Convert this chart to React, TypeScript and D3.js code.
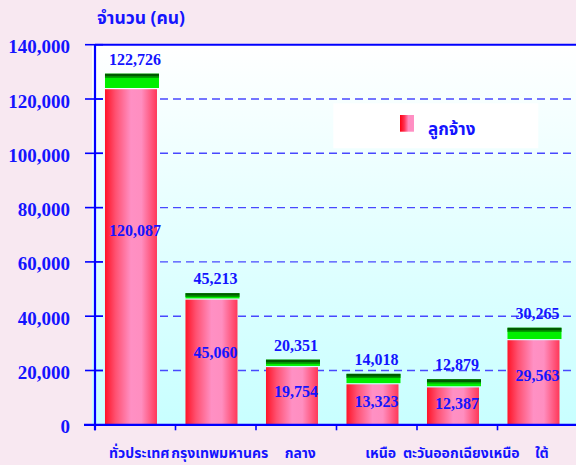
import React from "react";
import * as d3 from "d3";

const categories = ["ทั่วประเทศ", "กรุงเทพมหานคร", "กลาง", "เหนือ", "ตะวันออกเฉียงเหนือ", "ใต้"];
const totalValues = [122726, 45213, 20351, 14018, 12879, 30265];
const employeeValues = [120087, 45060, 19754, 13323, 12387, 29563];
const capValues = [5270, 1950, 2320, 3430, 2580, 4160];
const yTicks = [0, 20000, 40000, 60000, 80000, 100000, 120000, 140000];
const legendLabel = "ลูกจ้าง";
const yTitle = "จำนวน (คน)";

const W = 576;
const H = 465;
const left = 95;
const top = 44.7;
const bottom = 424.8;
const right = 578;

const thaiFont = "'Noto Sans Thai', 'Noto Sans Thai UI', Tahoma, 'Noto Sans', 'DejaVu Sans', sans-serif";
const numFont = "'Liberation Serif', 'Times New Roman', serif";
const blue = "#1414ff";

export default function App() {
  const x = d3.scaleBand<string>().domain(categories).range([left, right]).paddingInner(0).paddingOuter(0);
  const y = d3.scaleLinear().domain([0, 140000]).range([bottom, top]);
  const bw = x.bandwidth();
  const barOff = bw * 0.124;
  const barW = bw * 0.646;
  const capW = barW + 2;
  const lift = 2.4;
  const gap = 1.2;

  return (
    <svg width={W} height={H} style={{ display: "block", position: "absolute", left: 0, top: 0 }}>
      <defs>
        <linearGradient id="plotBg" x1="0" y1="0" x2="0" y2="1">
          <stop offset="0%" stopColor="#ffffff" />
          <stop offset="100%" stopColor="#c8ffff" />
        </linearGradient>
        <linearGradient id="barGrad" x1="0" y1="0" x2="1" y2="0">
          <stop offset="0%" stopColor="#ff1428" />
          <stop offset="20%" stopColor="#ff5070" />
          <stop offset="50%" stopColor="#ff90c4" />
          <stop offset="70%" stopColor="#ff8ec0" />
          <stop offset="100%" stopColor="#ff3858" />
        </linearGradient>
        <linearGradient id="legGrad" x1="0" y1="0" x2="1" y2="0">
          <stop offset="0%" stopColor="#ff0010" />
          <stop offset="30%" stopColor="#ff3050" />
          <stop offset="60%" stopColor="#ff8cc0" />
          <stop offset="100%" stopColor="#ff90c4" />
        </linearGradient>
      </defs>
      <rect x={0} y={0} width={W} height={H} fill="#f8e8f1" />
      <rect x={left - 3} y={top} width={W - left + 3} height={bottom - top} fill="url(#plotBg)" />

      {/* gridlines */}
      {yTicks.filter((t) => t > 0 && t < 140000).map((t) => (
        <line key={"g" + t} x1={left} x2={W} y1={y(t)} y2={y(t)} stroke="#4848ff" strokeWidth={1.4} strokeDasharray="8,5" />
      ))}

      {/* legend */}
      <rect x={333.3} y={103.3} width={205} height={45} fill="#ffffff" />
      <rect x={400} y={115} width={14} height={16.7} fill="url(#legGrad)" />
      <text x={428} y={135} fontFamily={thaiFont} fontWeight="bold" fontSize={17} fill={blue}>{legendLabel}</text>

      {/* bars */}
      {categories.map((c, i) => {
        const bx = (x(c) as number) + barOff;
        const redTop = y(totalValues[i]) - lift;
        const capH = y(0) - y(capValues[i]);
        const capBottom = redTop - gap;
        const capTop = capBottom - capH;
        const dark = Math.min(3, capH * 0.5);
        return (
          <g key={c}>
            <rect x={bx} y={redTop} width={barW} height={bottom - redTop} fill="url(#barGrad)" />
            <rect x={bx} y={capTop} width={capW} height={capH} fill="#00f000" />
            <rect x={bx} y={capTop} width={capW} height={dark} fill="#005a00" />
            <rect x={bx} y={capTop + dark} width={capW} height={Math.min(1.2, capH - dark)} fill="#009a00" />
            <text x={bx + barW / 2 + 4} y={capTop - 9} textAnchor="middle" fontFamily={numFont} fontWeight="bold" fontSize={16} fill={blue}>
              {d3.format(",")(totalValues[i])}
            </text>
            <text x={bx + barW / 2 + 4} y={redTop + (bottom - redTop) * 0.42 + 5.5} textAnchor="middle" fontFamily={numFont} fontWeight="bold" fontSize={16} fill={blue}>
              {d3.format(",")(employeeValues[i])}
            </text>
          </g>
        );
      })}

      {/* axes */}
      <line x1={left} x2={W} y1={top} y2={top} stroke="#0000ff" strokeWidth={2} />
      <line x1={left} x2={left} y1={top} y2={bottom + 5.5} stroke="#0000ff" strokeWidth={2.2} />
      <line x1={left - 11} x2={W} y1={bottom} y2={bottom} stroke="#0000ff" strokeWidth={2.2} />
      {yTicks.map((t) => (
        <g key={"t" + t}>
          <line x1={left - 10} x2={t === 0 ? left : left + 8} y1={y(t)} y2={y(t)} stroke="#0000ff" strokeWidth={1.6} />
          <text x={70} y={y(t) + 8.5} textAnchor="end" fontFamily={numFont} fontWeight="bold" fontSize={19} fill={blue}>
            {d3.format(",")(t)}
          </text>
        </g>
      ))}
      {categories.map((c) => (
        <line key={"xt" + c} x1={x(c) as number} x2={x(c) as number} y1={bottom} y2={bottom + 5.5} stroke="#0000ff" strokeWidth={1.6} />
      ))}
      {categories.map((c) => (
        <text key={"xl" + c} x={(x(c) as number) + bw / 2 + 4} y={458} textAnchor="middle" fontFamily={thaiFont} fontWeight="bold" fontSize={14} fill={blue}>
          {c}
        </text>
      ))}
      <text x={97} y={24} fontFamily={thaiFont} fontWeight="bold" fontSize={17.5} fill={blue}>{yTitle}</text>
    </svg>
  );
}
